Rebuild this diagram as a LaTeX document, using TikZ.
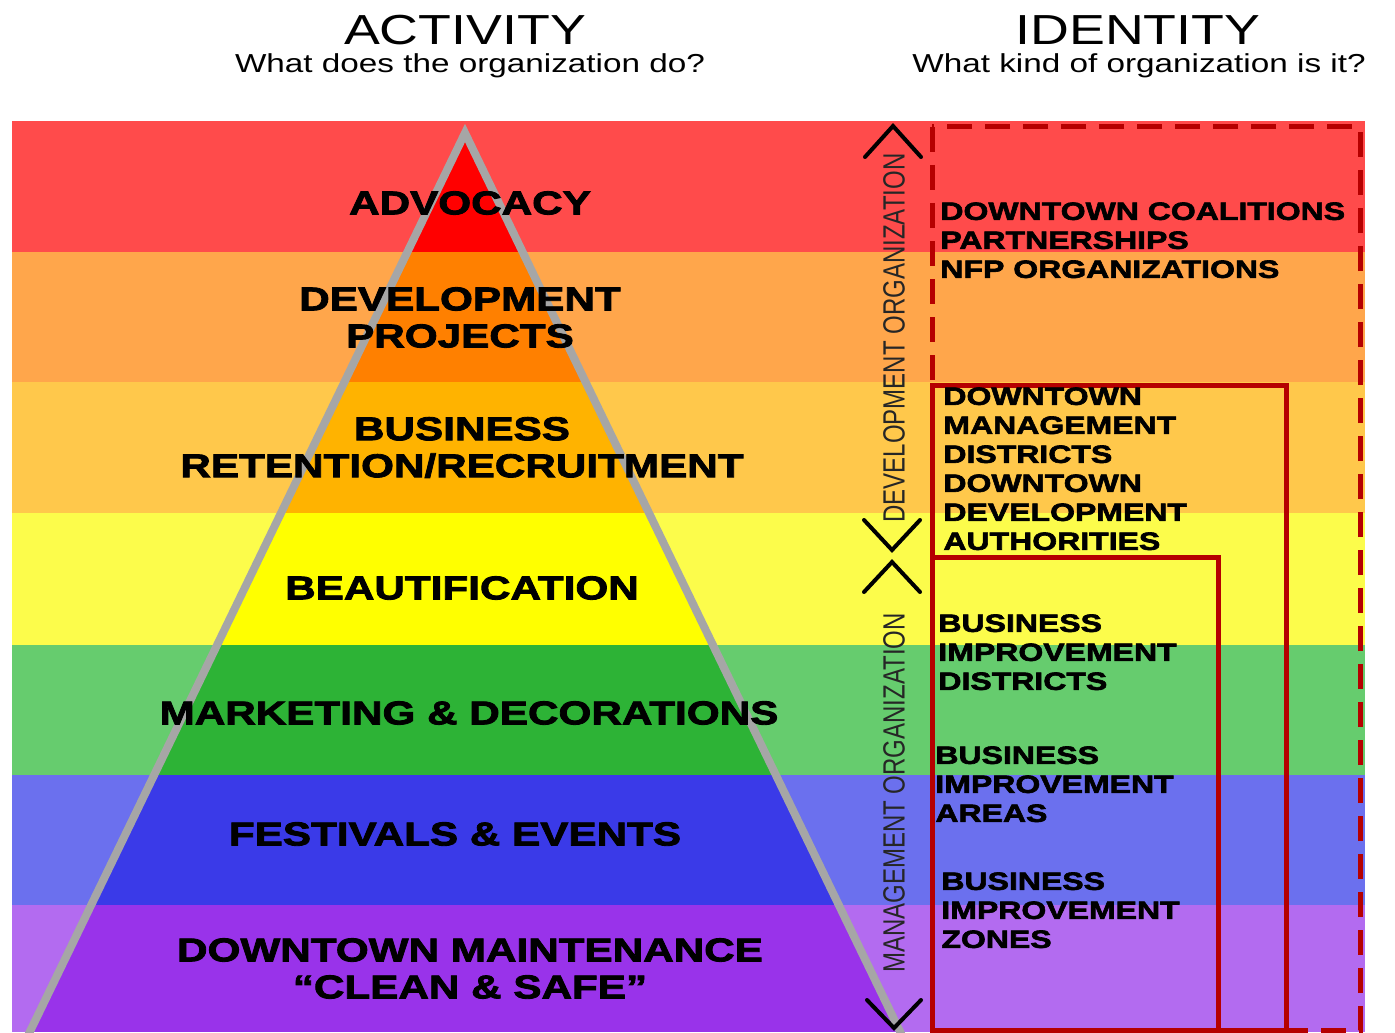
\documentclass[tikz,border=0pt]{standalone}
\usepackage{fontspec}
\usepackage{graphicx}
\setmainfont{Liberation Sans}[FakeStretch=1.28]
\newfontfamily\plainsans{Liberation Sans}
\newfontfamily\heavysans{Liberation Sans}[FakeStretch=1.28,FakeBold=2.5]
\usetikzlibrary{positioning}

\definecolor{bandRed}{HTML}{FF4B4B}
\definecolor{bandOrange}{HTML}{FFA64B}
\definecolor{bandGold}{HTML}{FFC84B}
\definecolor{bandYellow}{HTML}{FCFC4B}
\definecolor{bandGreen}{HTML}{66CC6E}
\definecolor{bandBlue}{HTML}{6B70EE}
\definecolor{bandPurple}{HTML}{B36BF0}
\definecolor{coreRed}{HTML}{FF0000}
\definecolor{coreOrange}{HTML}{FF8000}
\definecolor{coreGold}{HTML}{FFB300}
\definecolor{coreYellow}{HTML}{FFFF00}
\definecolor{coreGreen}{HTML}{2DB336}
\definecolor{coreBlue}{HTML}{3A3AE8}
\definecolor{corePurple}{HTML}{9933EA}
\definecolor{frameRed}{HTML}{B50000}
\definecolor{edgeGray}{HTML}{A6A6A6}

\tikzset{
  title/.style={font=\fontsize{21}{24}\selectfont, anchor=base, inner sep=0pt},
  question/.style={font=\fontsize{13}{15}\selectfont, anchor=base, inner sep=0pt},
  level/.style={font=\heavysans\bfseries\fontsize{16.5}{18.5}\selectfont, align=center, inner sep=0pt},
  kind/.style={font=\heavysans\bfseries\fontsize{12.5}{14.5}\selectfont, align=left, anchor=north west, inner sep=0pt},
  tier/.style={font=\plainsans\fontsize{12}{14}\selectfont, text=black!85, rotate=90, inner sep=0pt},
  chevron/.style={line width=2pt, line cap=round, line join=miter},
  frame/.style={draw=frameRed, line width=2.5pt},
  edge/.style={draw=edgeGray, line width=4pt, line join=miter},
}

\begin{document}
\begin{tikzpicture}[x=0.5pt, y=-0.5pt]
  \useasboundingbox (0,0) rectangle (1395,1032);
  \fill[white] (0,0) rectangle (1395,1032);

  \begin{scope}
    \clip (0,0) rectangle (1395,1032);
    \foreach \c/\t/\b in {bandRed/121/252, bandOrange/252/382, bandGold/382/513,
        bandYellow/513/645, bandGreen/645/775, bandBlue/775/905, bandPurple/905/1032}
      \fill[\c] (12,\t) rectangle (1365,\b);
    \begin{scope}
      \clip (465,133) -- (21,1050) -- (909,1050) -- cycle;
      \foreach \c/\t/\b in {coreRed/121/252, coreOrange/252/382, coreGold/382/513,
          coreYellow/513/645, coreGreen/645/775, coreBlue/775/905, corePurple/905/1032}
        \fill[\c] (12,\t) rectangle (1365,\b);
    \end{scope}
    \draw[edge] (465,133) -- (21,1050) -- (909,1050) -- cycle;

    \draw[frame, dash pattern=on 12.5pt off 6.5pt] (932,127) rectangle (1360,1030);
    \draw[frame] (932,385) rectangle (1286,1030);
    \draw[frame] (932,557) rectangle (1218,1030);

    \draw[chevron] (865,157) -- (893,126) -- (921,157);
    \draw[chevron] (864,520) -- (892,550) -- (920,520);
    \draw[chevron] (864,592) -- (892,562) -- (920,592);
    \draw[chevron] (867,1000) -- (894,1028) -- (921,1000);
  \end{scope}

  \node[title] (activity) at (465,45) {ACTIVITY};
  \node[question] (activityq) at (470,73) {What does the organization do?};
  \node[title] (identity) at (1138,45) {IDENTITY};
  \node[question] (identityq) at (1139,73) {What kind of organization is it?};

  \node[level] (advocacy) at (470,203) {ADVOCACY};
  \node[level] (projects) at (460,317.5) {DEVELOPMENT\\PROJECTS};
  \node[level] (retention) at (462,447.5) {BUSINESS\\RETENTION/RECRUITMENT};
  \node[level] (beauty) at (462,588) {BEAUTIFICATION};
  \node[level] (marketing) at (469,713) {MARKETING \& DECORATIONS};
  \node[level] (festivals) at (455,834) {FESTIVALS \& EVENTS};
  \node[level] (upkeep) at (470,968.5) {DOWNTOWN MAINTENANCE\\“CLEAN \& SAFE”};

  \node[tier] (devorg) at (894,338) {\scalebox{1}[1.28]{DEVELOPMENT ORGANIZATION}};
  \node[tier] (mgmtorg) at (894,793) {\scalebox{1}[1.28]{MANAGEMENT ORGANIZATION}};

  \node[kind] (coalitions) at (940,202) {DOWNTOWN COALITIONS\\PARTNERSHIPS\\NFP ORGANIZATIONS};
  \node[kind] (authorities) at (943,387) {DOWNTOWN\\MANAGEMENT\\DISTRICTS\\DOWNTOWN\\DEVELOPMENT\\AUTHORITIES};
  \node[kind] (bidistricts) at (938,614) {BUSINESS\\IMPROVEMENT\\DISTRICTS};
  \node[kind] (biareas) at (935,746) {BUSINESS\\IMPROVEMENT\\AREAS};
  \node[kind] (bizones) at (941,872) {BUSINESS\\IMPROVEMENT\\ZONES};
\end{tikzpicture}
\end{document}
